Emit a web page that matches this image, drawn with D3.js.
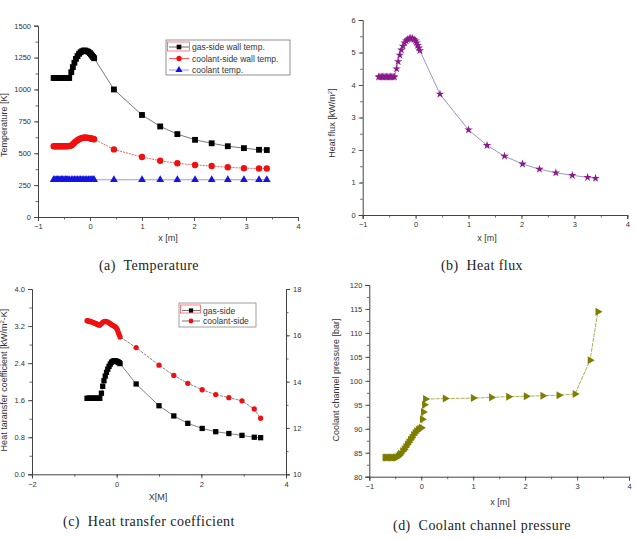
<!DOCTYPE html>
<html><head><meta charset="utf-8">
<script src="https://cdn.jsdelivr.net/npm/d3@7"></script>
<style>body{margin:0;background:#fff}svg{display:block}</style>
</head><body>
<svg id="c" width="636" height="539"></svg>
<script>
// ---------- DATA ----------
const xGrid = [-0.70,-0.675,-0.65,-0.625,-0.60,-0.575,-0.55,-0.525,-0.50,-0.475,-0.45,-0.425,-0.40,
  -0.36,-0.33,-0.30,-0.27,-0.24,-0.21,-0.18,-0.15,-0.12,-0.09,-0.06,-0.03,0.00,0.02,0.04,0.06,0.08,
  0.46,1.00,1.35,1.68,2.02,2.34,2.65,2.96,3.25,3.40];

const gasWallTemp = [1090,1090,1090,1090,1090,1090,1090,1090,1090,1090,1090,1090,1090,
  1135,1175,1210,1240,1262,1280,1292,1300,1305,1305,1300,1295,1285,1275,1265,1255,1245,
  1000,800,710,650,605,578,555,540,527,525];
const coolWallTemp = [555,555,555,555,555,555,555,555,555,555,555,556,557,
  560,570,582,593,602,610,616,620,622,623,622,620,618,616,614,612,610,
  530,470,441,421,408,400,390,383,380,380];
const coolantTemp = [292,292,292,292,292,292,292,292,292,292,292,292,292,
  292,292,292,292,292,292,292,292,292,292,292,292,292,292,292,292,292,
  292,292,292,292,292,292,292,292,292,292];

const heatFlux = [4.25,4.25,4.25,4.25,4.25,4.25,4.25,4.25,4.25,4.25,4.25,4.25,4.25,
  4.50,4.72,4.92,5.08,5.20,5.30,5.36,5.40,5.43,5.44,5.43,5.40,5.36,5.30,5.22,5.14,5.06,
  3.72,2.62,2.14,1.81,1.57,1.41,1.30,1.22,1.16,1.13];

const hGas = [1.64,1.64,1.64,1.64,1.64,1.64,1.64,1.64,1.64,1.64,1.64,1.64,1.64,
  1.75,1.90,2.02,2.12,2.20,2.27,2.33,2.38,2.42,2.44,2.45,2.45,2.44,2.43,2.42,2.41,2.39,
  1.95,1.48,1.26,1.10,0.99,0.92,0.88,0.84,0.80,0.79];
const hCoolant = [16.63,16.62,16.61,16.60,16.58,16.57,16.55,16.53,16.51,16.49,16.47,16.45,16.44,
  16.50,16.56,16.59,16.60,16.59,16.57,16.54,16.50,16.46,16.43,16.40,16.36,16.30,16.22,16.12,16.02,15.93,
  15.47,14.71,14.27,13.93,13.65,13.44,13.31,13.17,12.82,12.42];

const pressure = [84.0,84.0,84.0,84.0,84.0,84.0,84.0,84.0,84.0,84.0,84.2,84.5,84.8,
  85.3,85.7,86.2,86.7,87.2,87.7,88.2,88.7,89.1,89.5,89.8,90.0,90.2,92.0,93.5,95.0,96.2,
  96.3,96.4,96.55,96.7,96.8,96.9,97.0,97.25,104.3,114.4];

const ticksA_y = [0,250,500,750,1000,1250,1500];
const ticksB_y = [0,1,2,3,4,5,6];
const ticksC_yL = [0.0,0.8,1.6,2.4,3.2,4.0];
const ticksC_yR = [10,12,14,16,18];
const ticksD_y = [80,85,90,95,100,105,110,115,120];
const ticksX1 = [-1,0,1,2,3,4];
const ticksX2 = [-2,0,2,4];

const legendA = ["gas-side wall temp.","coolant-side wall temp.","coolant temp."];
const legendC = ["gas-side","coolant-side"];
const captions = ["(a)  Temperature","(b)  Heat flux","(c)  Heat transfer coefficient","(d)  Coolant channel pressure"];

// ---------- DRAWING ----------
const svg = d3.select("#c");
const FONT = "Liberation Sans, Arial, sans-serif";
const AX = "#444";

function axisGroup(g, scale, orient, ticks, minorTicks, fmt) {
  const mk = orient==="left"?d3.axisLeft:orient==="right"?d3.axisRight:d3.axisBottom;
  const a = g.append("g").attr("class","ax");
  a.call(mk(scale).tickValues(ticks).tickFormat(fmt).tickSize(4).tickPadding(3));
  a.append("g").call(mk(scale).tickValues(minorTicks).tickFormat("").tickSize(2.5))
    .select(".domain").remove();
  a.selectAll("path.domain").attr("stroke",AX).attr("stroke-width",1);
  a.selectAll("line").attr("stroke",AX).attr("stroke-width",0.8);
  a.selectAll("text").attr("font-family",FONT).attr("font-size",7.5).attr("fill","#333");
  return a;
}
function minors(lo,hi,step){const r=[];for(let v=lo;v<=hi+1e-9;v+=step)r.push(+v.toFixed(6));return r;}

function series(g, xs, ys, x, y, opt){
  const data = xs.map((d,i)=>[d,ys[i]]);
  g.append("path").datum(data)
    .attr("d", d3.line().x(d=>x(d[0])).y(d=>y(d[1])))
    .attr("fill","none").attr("stroke",opt.line).attr("stroke-width",opt.lw||0.8)
    .attr("stroke-dasharray",opt.dash||null);
  g.selectAll(null).data(data).enter().append("path")
    .attr("transform",d=>`translate(${x(d[0])},${y(d[1])})${opt.rot?` rotate(${opt.rot})`:""}`)
    .attr("d", d3.symbol().type(opt.sym).size(opt.size))
    .attr("fill",opt.color);
}

function caption(text, cx, cy){
  svg.append("text").attr("x",cx).attr("y",cy).attr("text-anchor","middle")
    .attr("font-family","Liberation Serif, DejaVu Serif, serif").attr("font-size",14)
    .attr("letter-spacing",0.45)
    .attr("fill","#222").attr("xml:space","preserve").text(text);
}
function ytitle(parts, cx, cy){
  const t = svg.append("text").attr("transform",`translate(${cx},${cy}) rotate(-90)`)
    .attr("text-anchor","middle").attr("font-family",FONT).attr("font-size",9).attr("fill","#333");
  parts.forEach(p=>{
    const s=t.append("tspan").text(p.t);
    if(p.sup) s.attr("font-size",6).attr("baseline-shift","super");
  });
}
function xtitle(text,cx,cy){
  svg.append("text").attr("x",cx).attr("y",cy).attr("text-anchor","middle")
    .attr("font-family",FONT).attr("font-size",9).attr("fill","#333").text(text);
}

// ---- Panel (a) ----
{
  const x = d3.scaleLinear().domain([-1,4]).range([38,298]);
  const y = d3.scaleLinear().domain([0,1500]).range([217,25.7]);
  const g = svg.append("g");
  axisGroup(g.append("g").attr("transform","translate(0,217)"), x,"bottom",ticksX1,minors(-1,4,0.5),d3.format("d"));
  axisGroup(g.append("g").attr("transform","translate(38,0)"), y,"left",ticksA_y,minors(0,1500,125),d3.format("d"));
  series(g,xGrid,coolantTemp,x,y,{line:"#7b7bff",color:"#1515e0",sym:d3.symbolTriangle,size:26});
  series(g,xGrid,coolWallTemp,x,y,{line:"#e33",color:"#f01010",sym:d3.symbolCircle,size:32,dash:"2,1"});
  series(g,xGrid,gasWallTemp,x,y,{line:"#555",color:"#000",sym:d3.symbolSquare,size:34});
  // legend
  const L = g.append("g").attr("transform","translate(166,40)");
  L.append("rect").attr("width",124).attr("height",35).attr("fill","#fff").attr("stroke","#777").attr("stroke-width",0.8);
  L.append("rect").attr("x",1.5).attr("y",2).attr("width",22).attr("height",9).attr("fill","none").attr("stroke","#f44").attr("stroke-width",0.7);
  const ls=[{c:"#000",l:"#444",s:d3.symbolSquare},{c:"#f01010",l:"#f33",s:d3.symbolCircle},{c:"#1515e0",l:"#7b7bff",s:d3.symbolTriangle}];
  legendA.forEach((t,i)=>{
    const yy=7+i*11.5;
    L.append("line").attr("x1",3).attr("x2",23).attr("y1",yy).attr("y2",yy).attr("stroke",ls[i].l).attr("stroke-width",0.8);
    L.append("path").attr("transform",`translate(13,${yy})`).attr("d",d3.symbol().type(ls[i].s).size(22)).attr("fill",ls[i].c);
    L.append("text").attr("x",26).attr("y",yy+3).attr("font-family",FONT).attr("font-size",8.5).attr("fill","#333").text(t);
  });
  ytitle([{t:"Temperature [K]"}],7,125);
  xtitle("x [m]",168,241);
  caption(captions[0],149,270);
}

// ---- Panel (b) ----
{
  const x = d3.scaleLinear().domain([-1,4]).range([362.7,627.3]);
  const y = d3.scaleLinear().domain([0,6]).range([215,20]);
  const g = svg.append("g");
  axisGroup(g.append("g").attr("transform","translate(0,215)"), x,"bottom",ticksX1,minors(-1,4,0.5),d3.format("d"));
  axisGroup(g.append("g").attr("transform","translate(362.7,0)"), y,"left",ticksB_y,minors(0,6,0.5),d3.format("d"));
  series(g,xGrid,heatFlux,x,y,{line:"#8a8ad0",color:"#8a1a8a",sym:d3.symbolStar,size:22,lw:0.9});
  ytitle([{t:"Heat flux [kW/m"},{t:"2",sup:true},{t:"]"}],335,123);
  xtitle("x [m]",487,241);
  caption(captions[1],482,270);
}

// ---- Panel (c) ----
{
  const x = d3.scaleLinear().domain([-2,4]).range([32,286]);
  const yL = d3.scaleLinear().domain([0,4]).range([474.3,289]);
  const yR = d3.scaleLinear().domain([10,18]).range([474.3,289]);
  const g = svg.append("g");
  axisGroup(g.append("g").attr("transform","translate(0,474.3)"), x,"bottom",ticksX2,minors(-2,4,1),d3.format("d"));
  axisGroup(g.append("g").attr("transform","translate(32,0)"), yL,"left",ticksC_yL,minors(0,4,0.4),d3.format(".1f"));
  axisGroup(g.append("g").attr("transform","translate(286,0)"), yR,"right",ticksC_yR,minors(10,18,1),d3.format("d"));
  series(g,xGrid,hGas,x,yL,{line:"#666",color:"#000",sym:d3.symbolSquare,size:28});
  series(g,xGrid,hCoolant,x,yR,{line:"#666",color:"#f01010",sym:d3.symbolCircle,size:22,dash:"3,1"});
  const L = g.append("g").attr("transform","translate(179,303)");
  L.append("rect").attr("width",77).attr("height",24).attr("fill","#fff").attr("stroke","#888").attr("stroke-width",0.8);
  L.append("rect").attr("x",1.5).attr("y",2).attr("width",20).attr("height",8).attr("fill","none").attr("stroke","#f44").attr("stroke-width",0.7);
  const ls=[{c:"#000",s:d3.symbolSquare},{c:"#f01010",s:d3.symbolCircle}];
  legendC.forEach((t,i)=>{
    const yy=7.5+i*10.5;
    L.append("line").attr("x1",3).attr("x2",21).attr("y1",yy).attr("y2",yy).attr("stroke","#555").attr("stroke-width",0.8);
    L.append("path").attr("transform",`translate(12,${yy})`).attr("d",d3.symbol().type(ls[i].s).size(18)).attr("fill",ls[i].c);
    L.append("text").attr("x",24).attr("y",yy+3).attr("font-family",FONT).attr("font-size",8.5).attr("fill","#333").text(t);
  });
  ytitle([{t:"Heat taransfer coefficient [kW/m"},{t:"2",sup:true},{t:"-K]"}],7,380);
  xtitle("X[M]",158,500);
  caption(captions[2],149,526);
}

// ---- Panel (d) ----
{
  const x = d3.scaleLinear().domain([-1,4]).range([369.3,629]);
  const y = d3.scaleLinear().domain([80,120]).range([476.7,285]);
  const g = svg.append("g");
  axisGroup(g.append("g").attr("transform","translate(0,476.7)"), x,"bottom",ticksX1,minors(-1,4,0.5),d3.format("d"));
  axisGroup(g.append("g").attr("transform","translate(369.3,0)"), y,"left",ticksD_y,minors(80,120,2.5),d3.format("d"));
  series(g,xGrid,pressure,x,y,{line:"#a3a340",color:"#7d7d00",sym:d3.symbolTriangle,size:28,rot:90,lw:0.9,dash:"4,1"});
  ytitle([{t:"Coolant channel pressure [bar]"}],339,380);
  xtitle("x [m]",500,505);
  caption(captions[3],482,530);
}
</script>
</body></html>
